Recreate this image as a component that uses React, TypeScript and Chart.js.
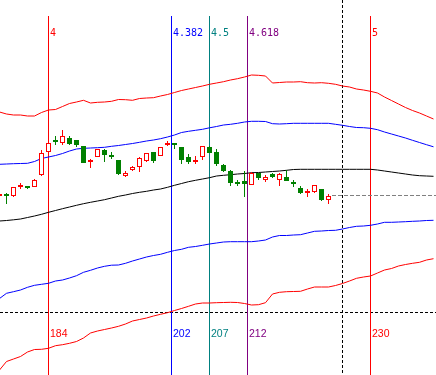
import React, { useEffect, useRef } from 'react';
import { Chart, registerables } from 'chart.js';

Chart.register(...registerables);

// ---- Data (bar numbers, prices in chart units) ----
const candleBars = [177, 178, 179, 180, 181, 182, 183, 184, 185, 186, 187, 188, 189, 190, 191, 192, 193, 194, 195, 196, 197, 198, 199, 200, 201, 202, 203, 204, 205, 206, 207, 208, 209, 210, 211, 212, 213, 214, 215, 216, 217, 218, 219, 220, 221, 222, 223, 224];
const opens = [179, 181, 179, 188, 189, 188, 200, 223, 235, 232, 237, 235, 229, 213, 218, 225, 220, 215, 199, 205, 208, 214, 223, 219, 230, 232, 228, 218, 213, 218, 228, 223, 210, 204, 193, 194, 190, 202, 195, 201, 195, 198, 193, 187, 182, 183, 186, 175];
const highs = [182, 182, 188, 192, 189, 196, 225, 235, 239, 245, 239, 235, 229, 216, 226, 226, 223, 215, 204, 209, 218, 222, 223, 228, 234, 232, 228, 221, 219, 229, 229, 226, 211, 205, 195, 204, 203, 202, 200, 202, 202, 205, 195, 189, 186, 190, 186, 181];
const lows = [178, 171, 178, 186, 186, 188, 199, 222, 230, 230, 230, 228, 212, 207, 218, 213, 216, 200, 198, 204, 203, 213, 212, 219, 229, 226, 211, 211, 211, 215, 222, 209, 203, 189, 189, 178, 190, 195, 193, 197, 189, 194, 188, 181, 178, 182, 174, 171];
const closes = [181, 179, 188, 190, 187, 195, 222, 232, 233, 239, 231, 230, 212, 215, 226, 220, 218, 201, 202, 208, 217, 222, 214, 228, 232, 230, 215, 213, 215, 229, 222, 211, 204, 192, 191, 191, 202, 197, 198, 198, 201, 194, 191, 182, 184, 190, 175, 179];

const bandBars = [177, 178, 179, 180, 181, 182, 183, 184, 185, 186, 187, 188, 189, 190, 191, 192, 193, 194, 195, 196, 197, 198, 199, 200, 201, 202, 203, 204, 205, 206, 207, 208, 209, 210, 211, 212, 213, 214, 215, 216, 217, 218, 219, 220, 221, 222, 223, 224, 225, 226, 227, 228, 229, 230, 231, 232, 233, 234, 235, 236, 237, 238, 239];
const upperOuter = [263, 261, 260, 260, 259, 259, 262.5, 265, 265.5, 268.5, 271.5, 273, 274.7, 272, 272.7, 273, 273.7, 275.5, 275.3, 274.7, 276.5, 277, 277.3, 279, 280.5, 282.5, 284.5, 286, 287.5, 289, 290.7, 292, 293.3, 295, 296.3, 298, 300, 299.7, 299, 292, 292.5, 293, 293, 293.3, 292.3, 292, 292.3, 291.7, 290.7, 289, 288, 286, 285, 283.7, 282, 278, 274.5, 271, 267.5, 264.5, 262, 259, 256];
const upperInner = [210.7, 211, 211.3, 211.5, 211.7, 213.5, 216.5, 218, 219.5, 221.5, 224, 226, 226.7, 227, 227.3, 227.7, 228.7, 229.5, 230.5, 231.5, 232.7, 234, 235, 236.3, 238, 240, 242.5, 243.7, 244.7, 245.7, 247.2, 248.5, 250, 250.7, 251.7, 253, 253.7, 253.7, 253.5, 251.3, 251, 251.3, 251.7, 251.7, 251.7, 251.7, 251.7, 251.7, 250.7, 249.7, 248.5, 247.5, 247.3, 246.7, 245.3, 243, 241, 239, 237, 234.7, 232.5, 230.3, 228.2];
const middleLine = [154, 154.5, 155.2, 156, 157.5, 159, 160.7, 162.7, 164.5, 166.3, 168, 169.7, 171.3, 172.7, 174, 175.3, 177, 178.7, 180, 181.5, 182.7, 183.7, 185, 186, 187.7, 189.7, 191.5, 193.3, 194.7, 196, 197.3, 199, 199.7, 200.3, 201, 201.5, 202.3, 202.5, 203, 203.5, 204, 204.7, 205.5, 205.7, 205.7, 205.7, 205.7, 205.7, 205.7, 205.7, 205.7, 205.7, 205.7, 205.7, 205, 204, 203, 202, 201, 200, 199.3, 199, 198.7];
const lowerInner = [76.5, 81.7, 83.3, 85, 87.7, 89.7, 90.7, 91.7, 94, 95, 97, 99.3, 102.7, 104.7, 107, 108.7, 109.8, 110, 111.7, 114, 116, 118, 119.5, 120.7, 122.7, 124.5, 125.7, 127.7, 128.5, 129.7, 131, 132, 133, 133.3, 133.3, 133.3, 133.3, 134, 135, 138, 139.5, 139.5, 140, 140.3, 142, 143.7, 144, 144.5, 144.7, 146, 147.5, 148.7, 149, 149.7, 151, 152.7, 152.7, 153, 153.3, 153.7, 154, 154.5, 154.7];
const lowerOuter = [5, 13.5, 16, 18.5, 23, 25.5, 25.7, 26.7, 29.3, 30.3, 31.7, 33.5, 37, 42, 44, 45.5, 47, 48.7, 51, 54, 55.5, 57, 59, 60.7, 62.3, 64.5, 66.5, 68.7, 71, 72, 72, 72.3, 72.5, 72.7, 72.5, 71.5, 70, 70.3, 72.3, 81, 82.7, 83.3, 83.5, 83.7, 86, 88, 88, 88, 89.5, 91.5, 94, 96.7, 98, 99, 102, 105, 106.5, 109, 110.5, 111.7, 112.7, 115, 116.3];

const fibRatioLabels = ['4', '4.382', '4.5', '4.618', '5'];
const fibBarPositions = [184, 201.572, 207, 212.428, 230];
const fibBarLabels = ['184', '202', '207', '212', '230'];
const fibColors = ['#ff0000', '#0000ff', '#008080', '#800080', '#ff0000'];
const currentBar = 226;
const referenceLevel = 63;

const X_MIN = 177.071;
const X_MAX = 239.357;
const Y_MIN = 0;
const Y_MAX = 375;

const UP = '#ff0000';
const DOWN = '#008000';

const overlayPlugin = {
  id: 'fibOverlay',
  beforeDatasetsDraw(chart: any) {
    const { ctx, chartArea, scales } = chart;
    const x = scales.x;
    const y = scales.y;
    ctx.save();
    ctx.lineWidth = 1;

    // horizontal dotted reference line
    const hy = Math.floor(y.getPixelForValue(referenceLevel)) + 0.5;
    ctx.strokeStyle = '#000000';
    ctx.setLineDash([3, 2]);
    ctx.beginPath();
    ctx.moveTo(chartArea.left, hy);
    ctx.lineTo(chartArea.right, hy);
    ctx.stroke();

    // current-bar dotted vertical
    const cx = Math.floor(x.getPixelForValue(currentBar)) + 0.5;
    ctx.beginPath();
    ctx.moveTo(cx, chartArea.top);
    ctx.lineTo(cx, chartArea.bottom);
    ctx.stroke();

    // fibonacci time lines
    ctx.setLineDash([]);
    fibBarPositions.forEach((b, i) => {
      const px = Math.floor(x.getPixelForValue(b)) + 0.5;
      ctx.strokeStyle = fibColors[i];
      ctx.beginPath();
      ctx.moveTo(px, chartArea.top + 16);
      ctx.lineTo(px, chartArea.bottom);
      ctx.stroke();
    });
    ctx.restore();
  },
  afterDatasetsDraw(chart: any) {
    const { ctx, chartArea, scales } = chart;
    const x = scales.x;
    const y = scales.y;
    ctx.save();
    // last close dashed line
    const lastIdx = closes.length - 1;
    const ly = Math.floor(y.getPixelForValue(closes[lastIdx])) + 0.5;
    const lx = x.getPixelForValue(candleBars[lastIdx] + 0.5);
    ctx.strokeStyle = '#808080';
    ctx.lineWidth = 1;
    ctx.setLineDash([4, 2]);
    ctx.beginPath();
    ctx.moveTo(lx, ly);
    ctx.lineTo(chartArea.right, ly);
    ctx.stroke();
    ctx.setLineDash([]);

    // labels
    ctx.textAlign = 'left';
    ctx.textBaseline = 'alphabetic';
    fibBarPositions.forEach((b, i) => {
      const px = Math.floor(x.getPixelForValue(b)) + 2;
      ctx.fillStyle = fibColors[i];
      ctx.font = '10px "DejaVu Sans Mono", monospace';
      ctx.fillText(fibRatioLabels[i], px, chartArea.top + 36);
      ctx.font = '10.5px "Liberation Sans", Arial, sans-serif';
      ctx.fillText(fibBarLabels[i], px, chartArea.top + 337);
    });
    ctx.restore();
  },
};

export default function App() {
  const canvasRef = useRef<HTMLCanvasElement | null>(null);

  useEffect(() => {
    document.body.style.margin = '0';
    const canvas = canvasRef.current;
    if (!canvas) return;

    const isUp = closes.map((c, i) => c >= opens[i]);
    const lineColor = isUp.map((u) => (u ? UP : DOWN));
    const bodyFill = isUp.map((u) => (u ? '#ffffff' : DOWN));

    const band = (vals: number[]) => bandBars.map((b, i) => ({ x: b, y: vals[i] }));
    const lineDs = (label: string, vals: number[], color: string) => ({
      type: 'line' as const,
      label,
      data: band(vals),
      borderColor: color,
      borderWidth: 1,
      pointRadius: 0,
      tension: 0,
      fill: false,
      order: 5,
    });

    const chart = new Chart(canvas, {
      type: 'bar',
      data: {
        datasets: [
          {
            type: 'bar',
            label: 'body',
            data: candleBars.map((b, i) => ({ x: b, y: [opens[i], closes[i]] })) as any,
            backgroundColor: bodyFill,
            borderColor: lineColor,
            borderWidth: 1,
            borderSkipped: false,
            barThickness: 5,
            grouped: false,
            inflateAmount: 0,
            order: 0,
          } as any,
          {
            type: 'bar',
            label: 'wick',
            data: candleBars.map((b, i) => ({ x: b, y: [lows[i], highs[i]] })) as any,
            backgroundColor: lineColor,
            borderWidth: 0,
            barThickness: 1,
            grouped: false,
            inflateAmount: 0,
            order: 1,
          } as any,
          lineDs('upperOuter', upperOuter, '#ff0000'),
          lineDs('upperInner', upperInner, '#0000ff'),
          lineDs('middle', middleLine, '#000000'),
          lineDs('lowerInner', lowerInner, '#0000ff'),
          lineDs('lowerOuter', lowerOuter, '#ff0000'),
        ] as any,
      },
      options: {
        responsive: false,
        animation: false,
        layout: { padding: 0 },
        plugins: {
          legend: { display: false },
          tooltip: { enabled: false },
        },
        scales: {
          x: { type: 'linear', min: X_MIN, max: X_MAX, display: false, offset: false, grid: { display: false } },
          y: { type: 'linear', min: Y_MIN, max: Y_MAX, display: false, grid: { display: false } },
        },
      } as any,
      plugins: [overlayPlugin],
    });

    return () => chart.destroy();
  }, []);

  return (
    <div style={{ width: 436, height: 375, background: '#ffffff' }}>
      <canvas ref={canvasRef} width={436} height={375} style={{ display: 'block' }} />
    </div>
  );
}
